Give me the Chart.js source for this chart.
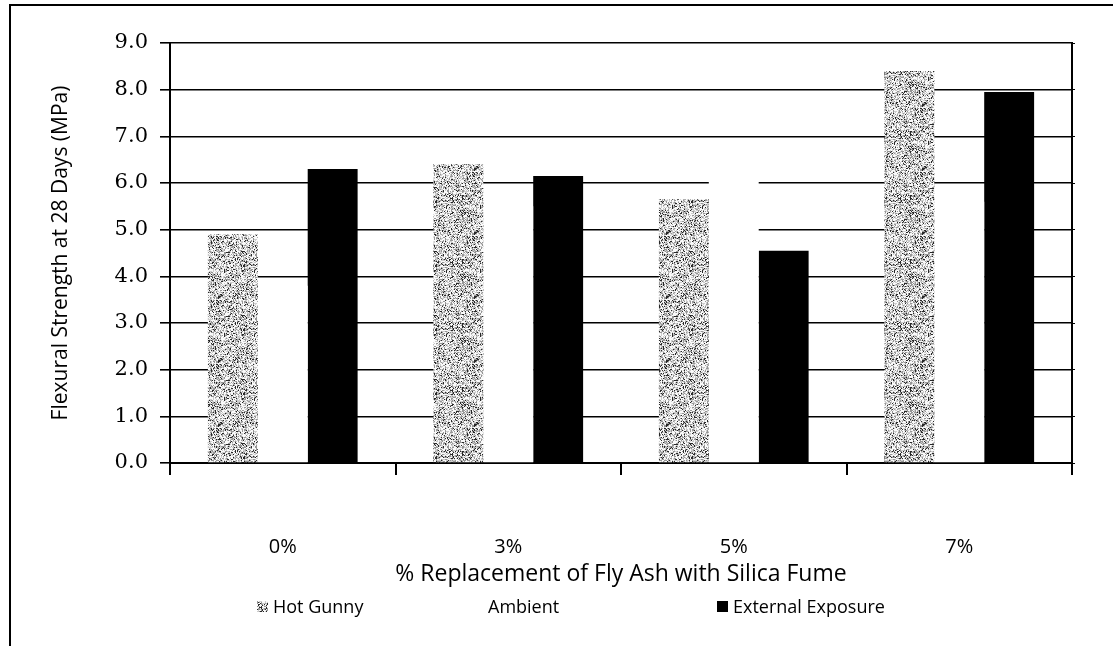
<!DOCTYPE html>
<html>
<head>
<meta charset="utf-8">
<script src="https://cdn.jsdelivr.net/npm/chart.js@4.4.1/dist/chart.umd.min.js"></script>
<style>
  body { margin: 0; background: #fff; }
  #wrap { position: relative; width: 1113px; height: 646px; }
  #frame { position: absolute; left: 9px; top: 4px; width: 1200px; height: 800px; border-left: 2px solid #000; border-top: 2px solid #000; }
  #legend { position: absolute; top: 594px; left: 0; width: 1113px; height: 26px; font-family: "Open Sans", sans-serif; font-size: 18px; color: #000; }
  #legend .item { position: absolute; top: 0; white-space: nowrap; }
  #legend .box { display: inline-block; width: 11px; height: 11px; margin-right: 5px; vertical-align: 1px; }
</style>
</head>
<body>
<div id="wrap">
  <div id="frame"></div>
  <canvas id="chart" width="1113" height="646"></canvas>
  <div id="legend"></div>
</div>
<script>
// chart data
const categories = ['0%', '3%', '5%', '7%'];
const seriesNames = ['Hot Gunny', 'Ambient', 'External Exposure'];
const hotGunny = [4.9, 6.4, 5.65, 8.4];
const ambient = [3.8, 5.5, 6.4, 5.6];
const externalExposure = [6.3, 6.15, 4.55, 7.95];
const yTicks = [0, 1, 2, 3, 4, 5, 6, 7, 8, 9];

// speckled grey fill, fixed seed so it looks the same every time
function speckle(size)
{
  const c = document.createElement('canvas');
  c.width = size;
  c.height = size;
  const g = c.getContext('2d');
  const img = g.createImageData(size, size);
  let seed = 12345;
  for (let i = 0; i < size * size; i++)
  {
    seed = (seed * 1103515245 + 12345) & 0x7fffffff;
    const r = (seed >> 8) % 100;
    const v = r < 12 ? 40 : (r < 35 ? 150 : (r < 62 ? 205 : 250));
    img.data[i * 4] = v;
    img.data[i * 4 + 1] = v;
    img.data[i * 4 + 2] = v;
    img.data[i * 4 + 3] = 255;
  }
  g.putImageData(img, 0, 0);
  return {canvas: c, pattern: g.createPattern(c, 'repeat')};
}
const sp = speckle(64);
const fills = [sp.pattern, '#ffffff', '#000000'];
const values = [hotGunny, ambient, externalExposure];

const ctx = document.getElementById('chart');
new Chart(ctx,
{
  type: 'bar',
  data:
  {
    labels: categories,
    datasets: seriesNames.map((n, i) => ({label: n, data: values[i], backgroundColor: fills[i], borderWidth: 0, yAxisID: 'y'}))
  },
  options:
  {
    responsive: false,
    animation: false,
    events: [],
    layout: {padding: {top: 43, bottom: 58, left: 0, right: 0}},
    datasets: {bar: {categoryPercentage: 0.664, barPercentage: 1.0}},
    plugins: {legend: {display: false}, tooltip: {enabled: false}},
    scales:
    {
      x:
      {
        offset: true,
        grid: {offset: true, drawOnChartArea: false, color: '#000', lineWidth: 2, tickLength: 12},
        border: {color: '#000', width: 2},
        ticks: {color: '#000', padding: 60, font: {family: 'Open Sans', size: 20}},
        title: {display: true, text: '% Replacement of Fly Ash with Silica Fume', color: '#000', font: {family: 'Open Sans', size: 23}, padding: {top: 0, bottom: 0}},
        afterFit: (s) => { s.height = 125; }
      },
      y:
      {
        min: 0,
        max: 9,
        afterBuildTicks: (s) => { s.ticks = yTicks.map(v => ({value: v})); },
        grid: {color: '#000', lineWidth: 1.6, tickLength: 10},
        border: {color: '#000', width: 2},
        ticks: {color: '#000', padding: 12, font: {family: 'DejaVu Serif', size: 21}, callback: (v) => Number(v).toFixed(1)},
        title: {display: true, text: 'Flexural Strength at 28 Days (MPa)', color: '#000', font: {family: 'Open Sans', size: 21}, padding: {top: 48, bottom: 0}},
        afterFit: (s) => { s.width = 170; }
      },
      y2:
      {
        position: 'right',
        min: 0,
        max: 9,
        grid: {drawOnChartArea: false, color: '#000', tickLength: 3},
        border: {color: '#000', width: 2},
        ticks: {display: false},
        afterFit: (s) => { s.width = 41; }
      }
    }
  }
});

// legend, laid out like the original's spaced slots
const legendLeft = [257, 472, 717];
const lg = document.getElementById('legend');
seriesNames.forEach((n, i) =>
{
  const item = document.createElement('span');
  item.className = 'item';
  item.style.left = legendLeft[i] + 'px';
  const box = document.createElement('span');
  box.className = 'box';
  if (i == 0)
  {
    box.style.backgroundImage = 'url(' + sp.canvas.toDataURL() + ')';
  }
  else
  {
    box.style.background = fills[i];
  }
  item.appendChild(box);
  item.appendChild(document.createTextNode(n));
  lg.appendChild(item);
});
</script>
</body>
</html>
